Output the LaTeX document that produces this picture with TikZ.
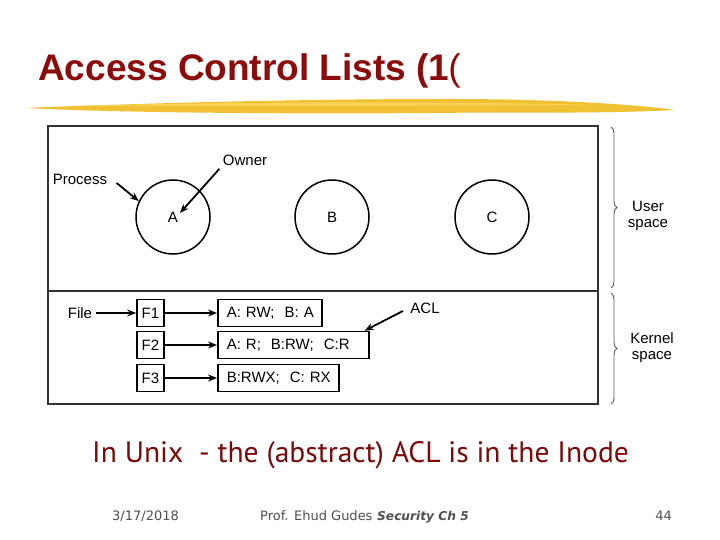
\documentclass[tikz,border=0pt]{standalone}
\usepackage{fontspec}
\setmainfont{Liberation Sans}
\newfontfamily\slidefont{PT Sans}
\newfontfamily\footfont{DejaVu Sans}
\usetikzlibrary{arrows.meta,decorations.pathreplacing,calc}
\definecolor{titlered}{HTML}{8C0C0C}
\definecolor{bodyred}{HTML}{7A0A0A}
\definecolor{footgray}{HTML}{505050}
\definecolor{brushA}{HTML}{F0BE28}
\definecolor{brushB}{HTML}{F8D860}
\definecolor{linegray}{HTML}{333333}
\tikzset{
  diag/.style={font=\fontsize{15}{17}\selectfont},
  proc/.style={circle,draw=black,line width=1.5pt,minimum size=74pt,inner sep=0pt,diag},
  fbox/.style={rectangle,draw=black,line width=1.6pt,minimum width=27pt,minimum height=27pt,inner sep=0pt,diag},
  aclbox/.style={rectangle,draw=black,line width=1.6pt,minimum height=27pt,inner ysep=0pt,inner xsep=9pt,align=left,anchor=west,diag},
  arr/.style={line width=1.8pt,-{Stealth[length=9pt,width=7pt]}},
  bracestyle/.style={decorate,decoration={brace,amplitude=6pt},line width=0.9pt,draw=black!65},
  foot/.style={font=\footfont\fontsize{13}{15}\selectfont,text=footgray}
}
\begin{document}
\begin{tikzpicture}[x=1pt,y=-1pt]
\useasboundingbox (0,0) rectangle (720,540);
\fill[white] (0,0) rectangle (720,540);
% title
\node[anchor=base west,inner sep=0pt,text=titlered,font=\fontsize{37}{42}\selectfont\bfseries] (title) at (38,81) {Access Control Lists (1\kern-1pt\mdseries(};
% brush stroke
\fill[brushA,opacity=0.95] (25,108) .. controls (150,103) and (300,99) .. (450,99) .. controls (560,99) and (640,105) .. (675,110)
  .. controls (600,114) and (500,112) .. (430,113) .. controls (300,114) and (120,113) .. (25,108) -- cycle;
\fill[brushB,opacity=0.8] (60,106) .. controls (200,103) and (400,100) .. (600,105) .. controls (450,106) and (250,106) .. (60,106) -- cycle;
% frame
\draw[linegray,line width=1.6pt] (48,126) rectangle (598,404);
\draw[linegray,line width=1.4pt] (48,291) -- (598,291);
% processes
\node[proc] (A) at (173,217) {A};
\node[proc] (B) at (332,217) {B};
\node[proc] (C) at (492,217) {C};
\node[diag] (owner) at (245,160) {Owner};
\node[diag] (proc) at (80,179) {Process};
\draw[arr] (owner.south west) -- ($(A.center)+(7,-4)$);
\draw[arr] ($(proc.east)+(6,4)$) -- (A.155);
% braces
\draw[bracestyle] (611,127) -- (611,288);
\draw[bracestyle] (611,293) -- (611,404);
\node[diag,align=center] (user) at (648,216) {User\\[-1pt]space};
\node[diag,align=center] (kernel) at (652,348) {Kernel\\[-1pt]space};
% files
\node[fbox] (F1) at (150.5,313) {F1};
\node[fbox] (F2) at (150.5,345) {F2};
\node[fbox] (F3) at (150.5,378) {F3};
\node[aclbox,text width=86pt] (L1) at (217,313) {\mbox{A: RW;\ \ B: A}};
\node[aclbox,text width=133pt] (L2) at (217,345) {\mbox{A: R;\ \ B:RW;\ \ C:R}};
\node[aclbox,text width=103pt] (L3) at (217,378) {\mbox{B:RWX;\ \ C: RX}};
\node[diag] (file) at (80,313) {File};
\draw[arr] (file.east) -- (F1.west);
\draw[arr] (F1.east) -- (L1.west);
\draw[arr] (F2.east) -- (L2.west);
\draw[arr] (F3.east) -- (L3.west);
\node[diag] (acl) at (425,308) {ACL};
\draw[arr] ($(acl.west)+(-4,3)$) -- ($(L2.north east)+(-5,0)$);
% bottom text
\node[anchor=base west,inner sep=0pt,text=bodyred,font=\slidefont\fontsize{29.5}{34}\selectfont] (note) at (92,462) {In Unix\ \ - the (abstract) ACL is in the Inode};
% footer
\node[foot,anchor=base west,inner sep=0pt] (date) at (112,520) {3/17/2018};
\node[foot,anchor=base west,inner sep=0pt] (author) at (260,520) {Prof. Ehud Gudes};
\node[foot,anchor=base west,inner sep=0pt,font=\footfont\fontsize{12.2}{14}\selectfont] (course) at (377,520) {\textbf{\textit{Security\ Ch 5}}};
\node[foot,anchor=base east,inner sep=0pt] (page) at (672,520) {44};
\end{tikzpicture}
\end{document}
